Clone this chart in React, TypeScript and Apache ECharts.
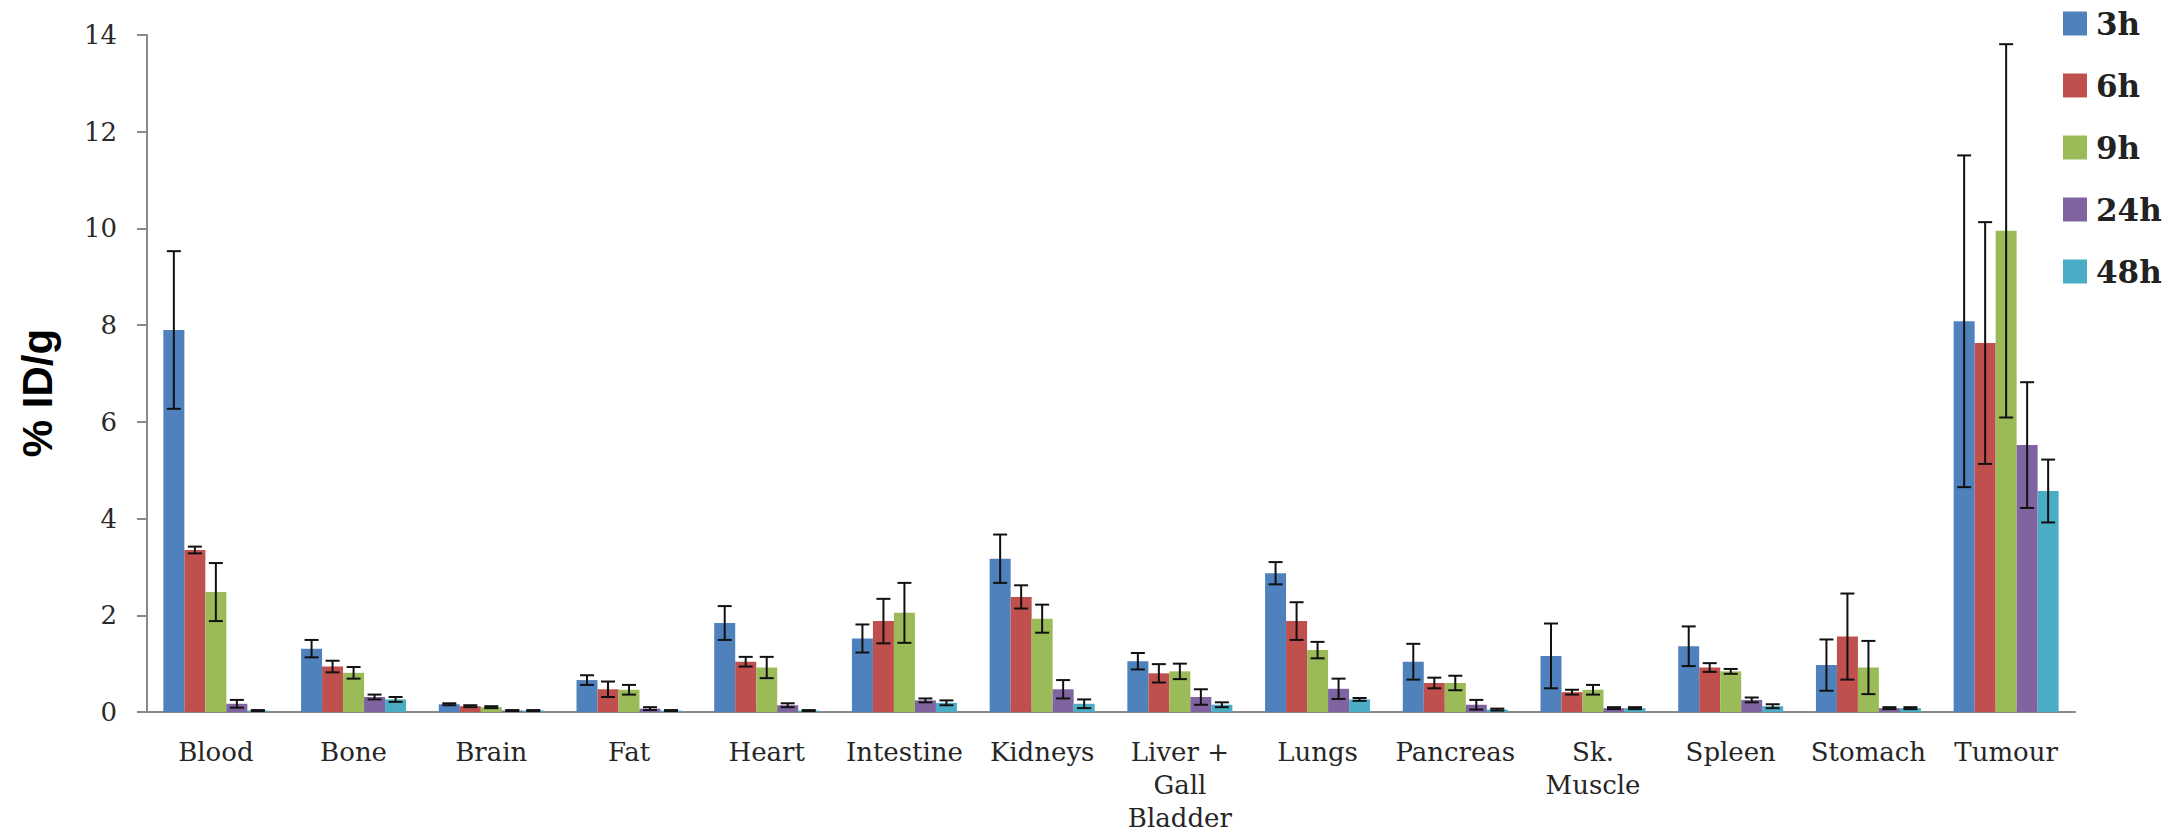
import React, { useEffect, useRef } from "react";
import * as echarts from "echarts";

const categories = [
  "Blood", "Bone", "Brain", "Fat", "Heart", "Intestine", "Kidneys",
  "Liver +\nGall\nBladder", "Lungs", "Pancreas", "Sk.\nMuscle", "Spleen", "Stomach", "Tumour",
];

const seriesNames = ["3h", "6h", "9h", "24h", "48h"];
const seriesColors = ["#4F81BD", "#C0504D", "#9BBB59", "#8064A2", "#4BACC6"];

const h3 = [7.9, 1.31, 0.16, 0.66, 1.84, 1.52, 3.17, 1.05, 2.87, 1.04, 1.16, 1.36, 0.97, 8.08];
const h3err = [1.63, 0.18, 0.02, 0.1, 0.35, 0.29, 0.5, 0.17, 0.23, 0.37, 0.67, 0.41, 0.53, 3.43];
const h6 = [3.35, 0.94, 0.12, 0.47, 1.04, 1.88, 2.38, 0.8, 1.88, 0.6, 0.41, 0.92, 1.56, 7.63];
const h6err = [0.07, 0.12, 0.02, 0.16, 0.1, 0.46, 0.24, 0.19, 0.39, 0.11, 0.05, 0.09, 0.89, 2.5];
const h9 = [2.48, 0.81, 0.1, 0.46, 0.92, 2.05, 1.93, 0.84, 1.28, 0.6, 0.46, 0.84, 0.92, 9.95];
const h9err = [0.6, 0.12, 0.02, 0.1, 0.22, 0.62, 0.29, 0.16, 0.17, 0.15, 0.1, 0.05, 0.55, 3.86];
const h24 = [0.17, 0.31, 0.03, 0.07, 0.14, 0.24, 0.47, 0.31, 0.48, 0.15, 0.08, 0.25, 0.08, 5.52];
const h24err = [0.08, 0.05, 0.01, 0.03, 0.04, 0.04, 0.19, 0.16, 0.21, 0.1, 0.02, 0.05, 0.02, 1.3];
const h48 = [0.03, 0.26, 0.03, 0.03, 0.03, 0.19, 0.17, 0.15, 0.26, 0.05, 0.08, 0.12, 0.08, 4.57];
const h48err = [0.01, 0.05, 0.01, 0.01, 0.01, 0.05, 0.09, 0.05, 0.03, 0.02, 0.02, 0.04, 0.02, 0.65];

const yTicks = { min: 0, max: 14, interval: 2 };

const values = [h3, h6, h9, h24, h48];
const errors = [h3err, h6err, h9err, h24err, h48err];

const BAR_W = 21;
const AXIS_COLOR = "#8a8a8a";

export default function App() {
  const ref = useRef<HTMLDivElement>(null);

  useEffect(() => {
    if (!ref.current) return;
    const chart = echarts.init(ref.current, undefined, { renderer: "svg" });

    const barSeries = seriesNames.map((name, i) => ({
      name,
      type: "bar",
      data: values[i],
      barWidth: BAR_W,
      barGap: "0%",
      itemStyle: { color: seriesColors[i] },
      z: 2,
    }));

    const errSeries = seriesNames.map((name, i) => ({
      name: name + " err",
      type: "custom",
      z: 5,
      data: values[i].map((v, ci) => [ci, v, errors[i][ci]]),
      encode: { x: 0, y: 1 },
      renderItem: (params: any, api: any) => {
        const ci = api.value(0);
        const v = api.value(1);
        const e = api.value(2);
        const off = (i - 2) * BAR_W;
        const x = api.coord([ci, v])[0] + off;
        const yTop = api.coord([ci, v + e])[1];
        const yBot = api.coord([ci, Math.max(0, v - e)])[1];
        const hw = 7;
        const style = { stroke: "#111", lineWidth: 2 };
        return {
          type: "group",
          children: [
            { type: "line", shape: { x1: x, y1: yTop, x2: x, y2: yBot }, style },
            { type: "line", shape: { x1: x - hw, y1: yTop, x2: x + hw, y2: yTop }, style },
            { type: "line", shape: { x1: x - hw, y1: yBot, x2: x + hw, y2: yBot }, style },
          ],
        };
      },
    }));

    chart.setOption({
      animation: false,
      grid: { left: 147, right: 106, top: 35, bottom: 117, containLabel: false },
      legend: {
        data: seriesNames,
        orient: "vertical",
        left: 2063,
        top: 8,
        padding: 0,
        itemWidth: 24,
        itemHeight: 24,
        itemGap: 31,
        icon: "rect",
        textStyle: {
          fontFamily: "DejaVu Serif",
          fontWeight: "bold",
          fontSize: 31,
          color: "#222",
          padding: [0, 0, 0, 4],
        },
      },
      xAxis: {
        type: "category",
        data: categories,
        axisTick: { show: false },
        axisLine: { lineStyle: { color: AXIS_COLOR, width: 2 } },
        axisLabel: {
          interval: 0,
          fontFamily: "DejaVu Serif",
          fontSize: 26,
          lineHeight: 33,
          color: "#262626",
          margin: 23,
        },
      },
      yAxis: {
        type: "value",
        min: yTicks.min,
        max: yTicks.max,
        interval: yTicks.interval,
        splitLine: { show: false },
        axisLine: { show: true, lineStyle: { color: AXIS_COLOR, width: 2 } },
        axisTick: { show: true, length: 10, lineStyle: { color: AXIS_COLOR, width: 2 } },
        axisLabel: {
          fontFamily: "DejaVu Serif",
          fontSize: 26,
          color: "#2a2a2a",
          margin: 30,
        },
      },
      graphic: [
        {
          type: "text",
          x: 37,
          y: 393,
          rotation: Math.PI / 2,
          style: {
            text: "% ID/g",
            fontFamily: "Liberation Sans, Arial, sans-serif",
            fontWeight: "bold",
            fontSize: 42,
            fill: "#000",
            textAlign: "center",
            textVerticalAlign: "middle",
          },
        },
      ],
      series: [...barSeries, ...errSeries],
    });

    return () => chart.dispose();
  }, []);

  return (
    <div
      ref={ref}
      style={{ position: "fixed", left: 0, top: 0, width: 2181, height: 834, background: "#fff" }}
    />
  );
}
